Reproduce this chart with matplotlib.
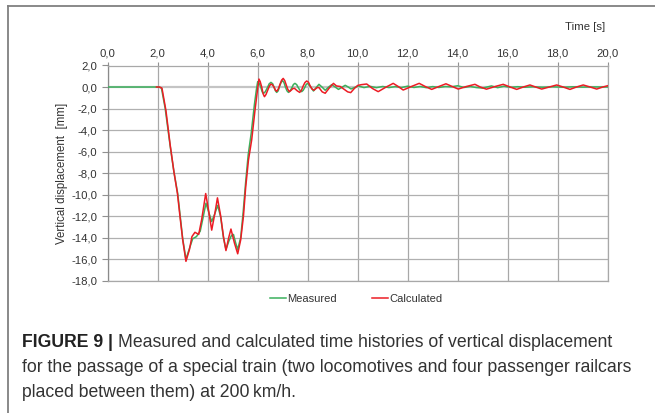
import matplotlib
matplotlib.use("Agg")
import matplotlib.pyplot as plt
from matplotlib.lines import Line2D

plt.rcParams['font.family'] = ['Liberation Sans', 'DejaVu Sans']

# ---------------- data ----------------
x_ticks = [0, 2, 4, 6, 8, 10, 12, 14, 16, 18, 20]
x_tick_labels = ["0,0", "2,0", "4,0", "6,0", "8,0", "10,0", "12,0", "14,0", "16,0", "18,0", "20,0"]
y_ticks = [2, 0, -2, -4, -6, -8, -10, -12, -14, -16, -18]
y_tick_labels = ["2,0", "0,0", "-2,0", "-4,0", "-6,0", "-8,0", "-10,0", "-12,0", "-14,0", "-16,0", "-18,0"]

measured_t = [0.0, 1.0, 2.05, 2.15, 2.3, 2.5, 2.65, 2.8, 2.9, 3.0, 3.13, 3.27, 3.4, 3.55,
              3.7, 3.8, 3.93, 4.05, 4.16, 4.28, 4.4, 4.52, 4.63, 4.73, 4.85, 4.95, 5.03,
              5.12, 5.2, 5.32, 5.42, 5.52, 5.62, 5.74, 5.87, 5.95, 6.0, 6.06, 6.12, 6.18, 6.23, 6.3, 6.38,
              6.46, 6.53, 6.6, 6.65, 6.71, 6.76, 6.82, 6.88, 6.94, 6.99, 7.05, 7.11, 7.17, 7.23, 7.3, 7.36,
              7.43, 7.49, 7.56, 7.62, 7.69, 7.76, 7.82, 7.88, 7.94, 8.0,
              8.12, 8.23, 8.34, 8.45, 8.58, 8.7, 8.83, 8.96, 9.1, 9.23, 9.36, 9.5, 9.62,
              9.73, 9.88, 10.03, 10.25, 10.5, 10.75, 11.0, 11.25, 11.5, 11.75, 12.0, 12.25,
              12.5, 12.75, 13.0, 13.25, 13.5, 13.75, 14.0, 14.25, 14.5, 14.75, 15.0, 15.35,
              15.6, 15.85, 16.1, 16.4, 16.7, 17.0, 17.4, 17.8, 18.2, 18.6, 19.0, 19.5, 20.0]
measured_v = [0.0, 0.0, 0.0, -0.1, -2.0, -5.5, -7.9, -9.9, -12.0, -14.1, -16.0, -15.0, -14.1, -13.9,
              -13.4, -12.3, -10.8, -11.7, -12.5, -11.8, -11.0, -12.1, -14.0, -15.1, -14.3, -13.8, -13.7,
              -14.5, -15.1, -14.0, -11.6, -8.8, -6.3, -4.3, -1.6, -0.2, 0.5, 0.35, 0.0, -0.45, -0.6, -0.45, -0.1,
              0.3, 0.43, 0.3, 0.0, -0.35, -0.5, -0.35, 0.1, 0.45, 0.6, 0.42, 0.0, -0.35, -0.5, -0.35, -0.1,
              0.24, 0.34, 0.22, -0.05, -0.3, -0.43, -0.3, -0.05, 0.24, 0.34,
              0.0, -0.37, -0.05, 0.25, -0.02, -0.3, -0.02, 0.22, 0.0, -0.22, -0.04, 0.16, 0.0,
              -0.18, -0.04, 0.1, -0.05, 0.06, -0.06, 0.05, -0.05, 0.04, -0.05, 0.08, -0.04,
              0.05, -0.06, 0.04, -0.04, 0.05, 0.02, 0.12, -0.04, 0.05, -0.05, -0.1, 0.1,
              -0.06, 0.08, -0.03, 0.03, -0.02, 0.02, -0.02, 0.02, -0.02, 0.02, -0.01, 0.01, 0.0]

calculated_t = [1.95, 2.07, 2.17, 2.33, 2.5, 2.65, 2.79, 2.89, 3.0, 3.13, 3.27, 3.37, 3.49, 3.64,
                3.76, 3.92, 4.03, 4.16, 4.29, 4.39, 4.52, 4.63, 4.73, 4.84, 4.93, 5.07, 5.2,
                5.32, 5.43, 5.52, 5.63, 5.76, 5.89, 5.99, 6.05, 6.1, 6.16, 6.22, 6.27, 6.33, 6.4, 6.47, 6.53, 6.59, 6.65,
                6.71, 6.76, 6.83, 6.9, 6.96, 7.02, 7.08, 7.14, 7.2, 7.27, 7.34, 7.4, 7.47, 7.58, 7.68, 7.75, 7.82, 7.89, 7.96,
                8.03, 8.1, 8.17, 8.25,
                8.38, 8.45, 8.58, 8.7, 8.86, 9.03, 9.15, 9.3, 9.45, 9.6, 9.72, 9.86, 10.0,
                10.15, 10.36, 10.6, 10.82, 11.1, 11.42, 11.62, 11.82, 12.15, 12.46, 12.7, 12.96,
                13.25, 13.53, 13.78, 14.02, 14.35, 14.69, 14.9, 15.15, 15.5, 15.82, 16.1, 16.36,
                16.62, 16.89, 17.12, 17.36, 17.66, 17.96, 18.22, 18.49, 18.75, 19.02, 19.3, 19.56,
                19.8, 20.0]
calculated_v = [0.0, 0.0, -0.1, -2.2, -5.4, -7.9, -9.9, -12.0, -14.2, -16.2, -15.1, -13.9, -13.5, -13.7,
                -12.3, -9.9, -11.4, -13.3, -11.7, -10.3, -12.0, -13.9, -15.2, -14.0, -13.2, -14.5, -15.5,
                -14.2, -12.0, -9.3, -6.8, -4.9, -2.2, -0.3, 0.74, 0.5, 0.0, -0.65, -0.9, -0.7, -0.3, 0.1, 0.27, 0.2, 0.0,
                -0.3, -0.4, -0.15, 0.3, 0.65, 0.8, 0.6, 0.2, -0.2, -0.43, -0.3, -0.15, -0.12, -0.35, -0.5, -0.3, 0.1, 0.42, 0.56,
                0.45, 0.1, -0.18, -0.3,
                -0.05, -0.05, -0.45, -0.58, -0.1, 0.34, 0.1, 0.05, -0.2, -0.45, -0.52, -0.15, 0.15,
                0.22, 0.28, -0.15, -0.43, -0.05, 0.34, 0.05, -0.28, 0.05, 0.34, 0.05, -0.22,
                0.05, 0.3, 0.05, -0.19, 0.05, 0.25, 0.0, -0.2, 0.05, 0.25, 0.0, -0.22,
                0.0, 0.19, 0.0, -0.19, 0.0, 0.19, 0.0, -0.22, 0.0, 0.19, 0.0, -0.19,
                0.0, 0.12]

series_names = ["Measured", "Calculated"]
caption_bold = "FIGURE 9 | "
caption_lines = ["Measured and calculated time histories of vertical displacement",
                 "for the passage of a special train (two locomotives and four passenger railcars",
                 "placed between them) at 200\u2009km/h."]

# ---------------- figure ----------------
W, H = 655, 413
fig = plt.figure(figsize=(W / 100, H / 100), dpi=100)
fig.patch.set_facecolor("white")

# outer frame (top and left edges)
fig.add_artist(Line2D([7.5 / W, 7.5 / W], [0, 1 - 6 / H], transform=fig.transFigure,
                      color="#808080", lw=1.3))
fig.add_artist(Line2D([7.5 / W, 1], [1 - 6 / H, 1 - 6 / H], transform=fig.transFigure,
                      color="#808080", lw=1.3))

left, right = 107.7 / W, 607.7 / W
top, bottom = 1 - 65.5 / H, 1 - 280.7 / H
ax = fig.add_axes([left, bottom, right - left, top - bottom])

ax.set_xlim(0, 20)
ax.set_ylim(-18, 2)

green = "#3bb05c"
red = "#ec1c24"
ax.plot(measured_t, measured_v, color=green, lw=1.1, label=series_names[0], zorder=3)
ax.plot(calculated_t, calculated_v, color=red, lw=1.1, label=series_names[1], zorder=4)

# grid
for xv in x_ticks:
    ax.axvline(xv, color="#a8a8a8", lw=0.9, zorder=1)
for yv in y_ticks:
    ax.axhline(yv, color="#c4c4c4" if yv == 0 else "#b0b0b0",
               lw=1.6 if yv == 0 else 0.9, zorder=1)

ax.xaxis.tick_top()
ax.set_xticks(x_ticks)
ax.set_xticklabels(x_tick_labels)
ax.set_yticks(y_ticks)
ax.set_yticklabels(y_tick_labels)
ax.tick_params(axis="x", direction="out", length=3, width=0.8, color="#909090",
               labelsize=8.2, pad=2, labelcolor="#333333")
ax.tick_params(axis="y", direction="out", length=4, width=0.8, color="#909090",
               labelsize=8.2, pad=3.5, labelcolor="#333333")
for s in ["top", "bottom", "right"]:
    ax.spines[s].set_color("#a8a8a8")
    ax.spines[s].set_linewidth(0.9)
ax.spines["left"].set_color("#8a8a8a")
ax.spines["left"].set_linewidth(0.9)

fig.text(62 / W, (top + bottom) / 2, "Vertical displacement  [mm]", rotation=90,
         ha="center", va="center", fontsize=8.3, color="#333333")
fig.text(605 / W, 1 - 27 / H, "Time [s]", ha="right", va="center", fontsize=8.2, color="#333333")

leg = ax.legend(loc="upper center", bbox_to_anchor=(0.497, -0.015), ncol=2, frameon=False,
                fontsize=8, handlelength=1.45, handletextpad=0.15, columnspacing=3.1)
for t in leg.get_texts():
    t.set_color("#333333")

# caption
fs_cap = 12.7
fig.canvas.draw()
renderer = fig.canvas.get_renderer()
y0 = 1 - 346.7 / H
dy = 25.0 / H
tb = fig.text(22.5 / W, y0, caption_bold, fontsize=fs_cap, fontweight="bold", color="#222222",
              ha="left", va="baseline")
bb = tb.get_window_extent(renderer=renderer)
fig.text(bb.x1 / W, y0, caption_lines[0], fontsize=fs_cap, color="#333333",
         ha="left", va="baseline")
for i, line in enumerate(caption_lines[1:], start=1):
    fig.text(22.5 / W, y0 - i * dy, line, fontsize=fs_cap, color="#333333",
             ha="left", va="baseline")

fig.savefig("out.png", dpi=100, facecolor="white")
